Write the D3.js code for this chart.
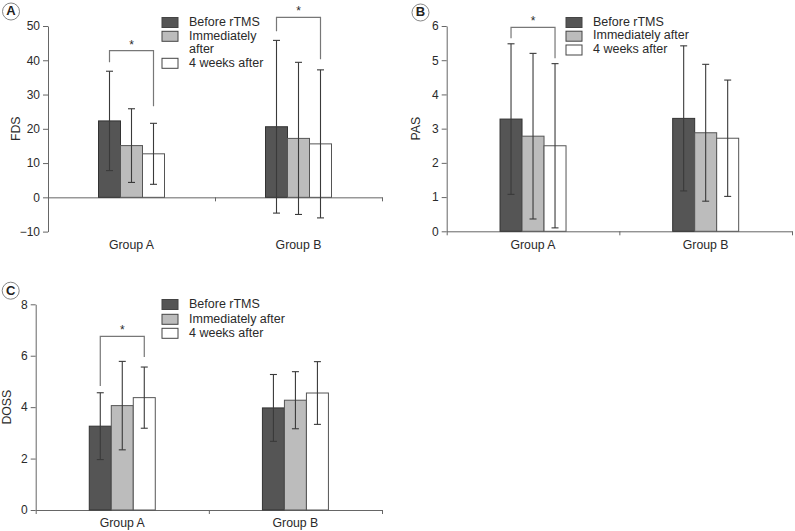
<!DOCTYPE html>
<html>
<head>
<meta charset="utf-8">
<script src="https://cdn.jsdelivr.net/npm/d3@7/dist/d3.min.js"></script>
<style>
  html, body { margin: 0; padding: 0; background: #fff; }
  svg { display: block; font-family: "Liberation Sans", Arial, Helvetica, sans-serif; }
</style>
</head>
<body>
<svg id="chart" width="795" height="531"></svg>
<script>
// ---------------- data ----------------
const categories = ["Group A", "Group B"];
const seriesNames = ["Before rTMS", "Immediately after", "4 weeks after"];
const seriesFill = ["#555555", "#bcbcbc", "#ffffff"];

// FDS (panel A): mean and SD per group, in series order
const fdsMean = [[22.3, 15.1, 12.7], [20.6, 17.2, 15.6]];
const fdsSD   = [[14.5, 10.75, 8.9], [25.2, 22.2, 21.6]];
const fdsTicks = [-10, 0, 10, 20, 30, 40, 50];

// PAS (panel B)
const pasMean = [[3.28, 2.78, 2.50], [3.30, 2.88, 2.72]];
const pasSD   = [[2.20, 2.42, 2.40], [2.12, 2.00, 1.70]];
const pasTicks = [0, 1, 2, 3, 4, 5, 6];

// DOSS (panel C)
const dossMean = [[3.26, 4.06, 4.37], [3.97, 4.27, 4.55]];
const dossSD   = [[1.30, 1.72, 1.19], [1.30, 1.11, 1.22]];
const dossTicks = [0, 2, 4, 6, 8];

// significance brackets: [group index, top value, left leg end, right leg end]
const fdsBrackets  = [[0, 42.8, 39.4, 26.6], [1, 52.5, 48.5, 40.3]];
const pasBrackets  = [[0, 5.96, 5.64, 5.06]];
const dossBrackets = [[0, 6.75, 4.82, 5.95]];

// ---------------- drawing ----------------
const svg = d3.select("#chart");
const textColor = "#2a2a2a";
const axisColor = "#666";

function panel(cfg) {
  const g = svg.append("g");
  const y = d3.scaleLinear().domain(cfg.domain).range([cfg.yBottom, cfg.yTop]);
  const x = d3.scaleBand().domain(categories).range([cfg.x0, cfg.x1]).paddingInner(0).paddingOuter(0);
  const barW = 22;
  const xs = d3.scaleBand().domain(seriesNames).range([-barW * 1.5, barW * 1.5]);
  const y0 = y(Math.max(0, cfg.domain[0]));

  // y axis
  const yAxis = d3.axisLeft(y).tickValues(cfg.ticks).tickSize(5).tickSizeOuter(0)
    .tickFormat(d => d < 0 ? "\u2212" + Math.abs(d) : d);
  const ya = g.append("g").attr("transform", `translate(${cfg.x0},0)`).call(yAxis);
  ya.select(".domain").attr("stroke", axisColor);
  ya.selectAll(".tick line").attr("stroke", axisColor);
  ya.selectAll(".tick text").attr("fill", textColor).attr("font-size", 12)
    .attr("font-family", "'Liberation Sans', Arial, sans-serif").attr("x", -8);

  // x axis at zero line
  const xl = d3.scaleLinear().domain([0, categories.length]).range([cfg.x0, cfg.x1]);
  const xAxis = d3.axisBottom(xl).tickValues(d3.range(cfg.startTick ? 0 : 1, categories.length + 1))
    .tickSize(4).tickSizeOuter(0).tickFormat("");
  const xa = g.append("g").attr("transform", `translate(0,${y0})`).call(xAxis);
  xa.select(".domain").attr("stroke", axisColor);
  xa.selectAll(".tick line").attr("stroke", axisColor);

  // group labels
  g.selectAll(".glabel").data(categories).join("text")
    .attr("x", d => x(d) + x.bandwidth() / 2)
    .attr("y", cfg.labelY)
    .attr("text-anchor", "middle").attr("dominant-baseline", "middle")
    .attr("font-size", 12.3).attr("fill", textColor).text(d => d);

  // bars
  categories.forEach((c, gi) => {
    const cx = x(c) + x.bandwidth() / 2;
    seriesNames.forEach((s, si) => {
      const m = cfg.mean[gi][si];
      g.append("rect")
        .attr("x", cx + xs(s)).attr("width", xs.bandwidth())
        .attr("y", y(m)).attr("height", y0 - y(m))
        .attr("fill", seriesFill[si])
        .attr("stroke", si === 0 ? "#333" : "#555").attr("stroke-width", 1);
    });
  });
  // error bars
  categories.forEach((c, gi) => {
    const cx = x(c) + x.bandwidth() / 2;
    seriesNames.forEach((s, si) => {
      const m = cfg.mean[gi][si], sd = cfg.sd[gi][si];
      const ex = cx + xs(s) + xs.bandwidth() / 2;
      const top = y(m + sd), bot = y(m - sd);
      const col = "#3a3a3a";
      g.append("line").attr("x1", ex).attr("x2", ex).attr("y1", top).attr("y2", bot)
        .attr("stroke", col).attr("stroke-width", 1.1);
      [top, bot].forEach(yy => g.append("line").attr("x1", ex - 3.5).attr("x2", ex + 3.5)
        .attr("y1", yy).attr("y2", yy).attr("stroke", col).attr("stroke-width", 1.1));
    });
  });
  // brackets
  cfg.brackets.forEach(b => {
    const cx = x(categories[b[0]]) + x.bandwidth() / 2;
    const lx = cx + xs(seriesNames[0]) + xs.bandwidth() / 2;
    const rx = cx + xs(seriesNames[2]) + xs.bandwidth() / 2;
    g.append("path")
      .attr("d", `M${lx},${y(b[2])}V${y(b[1])}H${rx}V${y(b[3])}`)
      .attr("fill", "none").attr("stroke", "#777").attr("stroke-width", 1.2);
    g.append("text").attr("x", (lx + rx) / 2).attr("y", y(b[1]) - 2)
      .attr("text-anchor", "middle").attr("font-size", 12).attr("fill", textColor).text("*");
  });

  // y label
  g.append("text")
    .attr("transform", `translate(${cfg.ylabelX},${(cfg.yTop + y(cfg.domain[0])) / 2}) rotate(-90)`)
    .attr("text-anchor", "middle").attr("dominant-baseline", "middle")
    .attr("font-size", 12.3).attr("fill", textColor).text(cfg.ylabel);

  // legend
  const lg = g.append("g");
  cfg.legendRows.forEach((row, i) => {
    if (row.swatch !== null) {
      lg.append("rect").attr("x", cfg.legendX).attr("y", row.y - 5).attr("width", 16).attr("height", 10)
        .attr("fill", seriesFill[row.swatch]).attr("stroke", "#444").attr("stroke-width", 1);
    }
    lg.append("text").attr("x", cfg.legendX + 27).attr("y", row.y)
      .attr("dominant-baseline", "middle").attr("font-size", 12.5).attr("fill", textColor).text(row.text);
  });

  // panel letter
  g.append("circle").attr("cx", cfg.letterX).attr("cy", cfg.letterY).attr("r", 8.5)
    .attr("fill", "#fff").attr("stroke", "#777").attr("stroke-width", 0.9);
  g.append("text").attr("x", cfg.letterX).attr("y", cfg.letterY + 0.5)
    .attr("text-anchor", "middle").attr("dominant-baseline", "middle")
    .attr("font-size", 13).attr("font-weight", "bold").attr("fill", "#222").text(cfg.letter);
}

panel({
  letter: "A", letterX: 11, letterY: 11.5,
  domain: [-10, 50], ticks: fdsTicks, yTop: 26, yBottom: 231.6,
  x0: 48, x1: 382, labelY: 246, startTick: false,
  mean: fdsMean, sd: fdsSD, brackets: fdsBrackets,
  ylabel: "FDS", ylabelX: 17,
  legendX: 162,
  legendRows: [
    { swatch: 0, text: "Before rTMS", y: 22.5 },
    { swatch: 1, text: "Immediately", y: 36.3 },
    { swatch: null, text: "after", y: 50 },
    { swatch: 2, text: "4 weeks after", y: 63.3 }
  ]
});

panel({
  letter: "B", letterX: 420.5, letterY: 12.5,
  domain: [0, 6], ticks: pasTicks, yTop: 26, yBottom: 231.3,
  x0: 446.7, x1: 792, labelY: 246, startTick: true,
  mean: pasMean, sd: pasSD, brackets: pasBrackets,
  ylabel: "PAS", ylabelX: 417,
  legendX: 566,
  legendRows: [
    { swatch: 0, text: "Before rTMS", y: 22.5 },
    { swatch: 1, text: "Immediately after", y: 36.2 },
    { swatch: 2, text: "4 weeks after", y: 50 }
  ]
});

panel({
  letter: "C", letterX: 10.7, letterY: 290.7,
  domain: [0, 8], ticks: dossTicks, yTop: 304.3, yBottom: 510,
  x0: 35.7, x1: 382, labelY: 524, startTick: true,
  mean: dossMean, sd: dossSD, brackets: dossBrackets,
  ylabel: "DOSS", ylabelX: 7.5,
  legendX: 162,
  legendRows: [
    { swatch: 0, text: "Before rTMS", y: 304.5 },
    { swatch: 1, text: "Immediately after", y: 319.3 },
    { swatch: 2, text: "4 weeks after", y: 333.3 }
  ]
});
</script>
</body>
</html>
